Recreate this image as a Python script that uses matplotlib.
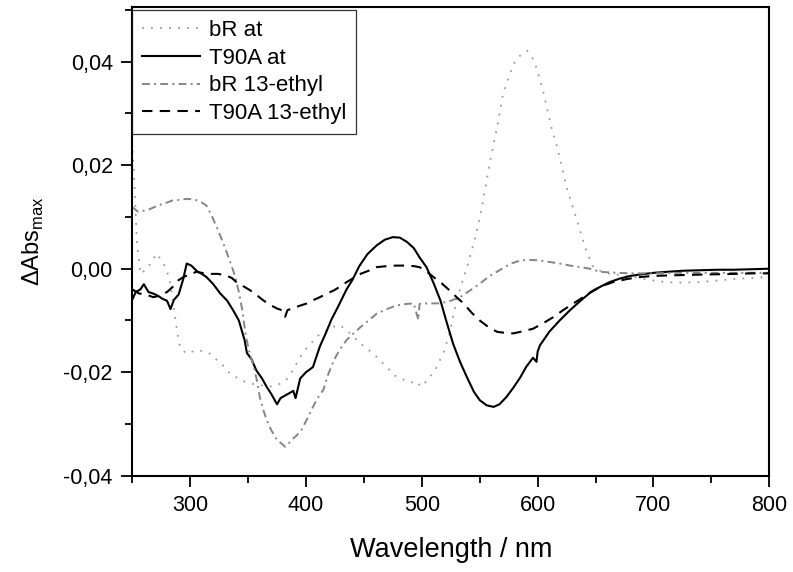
import matplotlib
matplotlib.use("Agg")
import matplotlib.pyplot as plt
from matplotlib.ticker import MultipleLocator, FixedLocator, FuncFormatter

plt.rcParams['font.family'] = ['Liberation Sans', 'DejaVu Sans']
plt.rcParams['mathtext.fontset'] = 'custom'
plt.rcParams['mathtext.rm'] = 'Liberation Sans'

# bR at (dotted)
wl_br_at = [250, 251, 252, 254, 257, 260, 263, 267, 271, 274, 277, 280, 283, 287, 290, 292,
            297, 302, 308, 312, 317, 321, 326, 330, 334, 338, 342, 347, 352, 358, 363, 368,
            373, 378, 383, 389, 395, 400, 404, 410, 418, 424, 429, 435, 441, 450, 458, 466,
            474, 478, 485, 490, 496, 499, 505, 513, 519, 524, 530, 535, 539, 543, 547, 553,
            559, 565, 570, 575, 579, 585, 591, 595, 599, 604, 608, 612, 617, 621, 625, 630,
            634, 638, 642, 648, 655, 660, 670, 683, 697, 712, 725, 740, 755, 769, 785, 800]
br_at = [0.0245, 0.0200, 0.0160, 0.0050, -0.0010, -0.0005, 0.0000, 0.0015, 0.0029, 0.0020,
         0.0010, -0.0005, -0.0030, -0.0093, -0.0140, -0.0155, -0.0164, -0.0160, -0.0157,
         -0.0162, -0.0164, -0.0172, -0.0183, -0.0190, -0.0202, -0.0208, -0.0212, -0.0218,
         -0.0222, -0.0224, -0.0226, -0.0228, -0.0226, -0.0222, -0.0215, -0.0195, -0.0170,
         -0.0155, -0.0145, -0.0130, -0.0119, -0.0112, -0.0109, -0.0118, -0.0132, -0.0150,
         -0.0164, -0.0182, -0.0200, -0.0209, -0.0215, -0.0220, -0.0218, -0.0228, -0.0215,
         -0.0190, -0.0160, -0.0125, -0.0061, -0.0025, 0.0003, 0.0035, 0.0067, 0.0132,
         0.0209, 0.0273, 0.0337, 0.0370, 0.0395, 0.0412, 0.0421, 0.0410, 0.0388, 0.0350,
         0.0311, 0.0272, 0.0234, 0.0195, 0.0157, 0.0122, 0.0093, 0.0063, 0.0035, 0.0003,
         -0.0005, -0.0009, -0.0012, -0.0016, -0.0022, -0.0026, -0.0027, -0.0026, -0.0023,
         -0.0020, -0.0018, -0.0016]

# T90A at (solid)
wl_t90a_at = [250, 253, 257, 260, 264, 268, 272, 276, 280, 283, 286, 290, 294, 297, 301, 306,
              310, 314, 320, 326, 332, 337, 342, 347, 349, 353, 357, 362, 366, 370, 375, 378,
              382, 386, 389, 391, 395, 400, 406, 409, 412, 417, 422, 428, 435, 440, 446, 453,
              461, 468, 475, 481, 487, 493, 498, 504, 510, 516, 521, 527, 533, 539, 545, 550,
              556, 562, 567, 573, 579, 585, 590, 596, 599, 600, 602, 610, 619, 628, 637, 645,
              654, 662, 671, 680, 689, 700, 712, 725, 740, 755, 769, 785, 800]
t90a_at = [-0.0060, -0.0045, -0.0040, -0.0030, -0.0045, -0.0048, -0.0052, -0.0058, -0.0062,
           -0.0078, -0.0060, -0.0050, -0.0020, 0.0010, 0.0006, -0.0005, -0.0010, -0.0016,
           -0.0030, -0.0048, -0.0062, -0.0080, -0.0100, -0.0138, -0.0163, -0.0175, -0.0196,
           -0.0212, -0.0228, -0.0242, -0.0262, -0.0250, -0.0245, -0.0240, -0.0236, -0.0250,
           -0.0212, -0.0200, -0.0190, -0.0170, -0.0150, -0.0125, -0.0098, -0.0072, -0.0040,
           -0.0022, 0.0005, 0.0028, 0.0045, 0.0056, 0.0061, 0.0060, 0.0052, 0.0040, 0.0022,
           0.0003, -0.0027, -0.0061, -0.0100, -0.0145, -0.0180, -0.0210, -0.0238, -0.0254,
           -0.0264, -0.0267, -0.0262, -0.0248, -0.0230, -0.0210, -0.0190, -0.0172, -0.0180,
           -0.0160, -0.0148, -0.0122, -0.0100, -0.0080, -0.0062, -0.0047, -0.0035, -0.0026,
           -0.0019, -0.0014, -0.0011, -0.0008, -0.0006, -0.0004, -0.0003, -0.0002, -0.0002,
           -0.0001, 0.0000]

# bR 13-ethyl (dash-dot)
wl_br_et = [250, 255, 260, 265, 272, 279, 285, 291, 297, 302, 306, 310, 314, 318, 323, 327,
            331, 335, 339, 342, 345, 348, 351, 355, 358, 360, 363, 366, 370, 375, 379, 382,
            385, 388, 392, 396, 401, 406, 410, 415, 419, 424, 429, 435, 441, 447, 454, 461,
            470, 478, 487, 493, 497, 498, 505, 516, 525, 533, 541, 550, 558, 567, 576, 585,
            593, 602, 610, 619, 628, 637, 645, 654, 668, 683, 700, 720, 740, 760, 780, 800]
br_et = [0.0119, 0.0110, 0.0112, 0.0115, 0.0122, 0.0127, 0.0132, 0.0133, 0.0135, 0.0134,
         0.0132, 0.0128, 0.0122, 0.0105, 0.0080, 0.0058, 0.0035, 0.0010, -0.0016, -0.0045,
         -0.0080, -0.0130, -0.0160, -0.0190, -0.0220, -0.0247, -0.0272, -0.0292, -0.0312,
         -0.0331, -0.0338, -0.0344, -0.0338, -0.0330, -0.0322, -0.0312, -0.0290, -0.0267,
         -0.0250, -0.0234, -0.0205, -0.0177, -0.0157, -0.0138, -0.0125, -0.0113, -0.0100,
         -0.0087, -0.0078, -0.0071, -0.0068, -0.0067, -0.0099, -0.0068, -0.0067, -0.0067,
         -0.0062, -0.0055, -0.0043, -0.0029, -0.0015, -0.0003, 0.0009, 0.0016, 0.0017,
         0.0016, 0.0013, 0.0010, 0.0006, 0.0003, 0.0000, -0.0006, -0.0008, -0.0009, -0.0009,
         -0.0008, -0.0008, -0.0008, -0.0008, -0.0008]

# T90A 13-ethyl (dashed)
wl_t90a_et = [250, 256, 262, 268, 274, 280, 285, 290, 295, 300, 305, 310, 317, 324, 331, 336,
              340, 346, 352, 358, 363, 369, 375, 379, 382, 384, 388, 394, 401, 406, 412, 418,
              424, 430, 435, 441, 447, 454, 461, 470, 478, 487, 493, 498, 504, 510, 517, 524,
              530, 536, 543, 550, 557, 565, 572, 579, 587, 596, 605, 614, 622, 631, 640, 648,
              656, 665, 677, 689, 700, 712, 730, 750, 770, 785, 800]
t90a_et = [-0.0040, -0.0048, -0.0050, -0.0055, -0.0052, -0.0045, -0.0035, -0.0022, -0.0015,
           -0.0012, -0.0006, -0.0008, -0.0010, -0.0010, -0.0013, -0.0018, -0.0026, -0.0034,
           -0.0042, -0.0052, -0.0061, -0.0070, -0.0077, -0.0080, -0.0093, -0.0080, -0.0077,
           -0.0072, -0.0067, -0.0061, -0.0055, -0.0048, -0.0042, -0.0034, -0.0026, -0.0018,
           -0.0010, -0.0004, 0.0003, 0.0005, 0.0006, 0.0006, 0.0005, 0.0003, -0.0005, -0.0016,
           -0.0028, -0.0042, -0.0055, -0.0067, -0.0085, -0.0100, -0.0112, -0.0122, -0.0124,
           -0.0125, -0.0121, -0.0116, -0.0105, -0.0093, -0.0080, -0.0067, -0.0054, -0.0042,
           -0.0033, -0.0026, -0.0020, -0.0016, -0.0014, -0.0013, -0.0012, -0.0011, -0.0010,
           -0.0009, -0.0009]

x_ticks = [300, 400, 500, 600, 700, 800]
y_ticks = [-0.04, -0.02, 0.00, 0.02, 0.04]

fig = plt.figure(figsize=(7.93, 5.72), dpi=100)
ax = fig.add_axes([0.1668, 0.1683, 0.8033, 0.8189])

ax.plot(wl_br_at, br_at, color='#9a9a9a', lw=1.3, ls=(0, (1, 4)), label='bR at')
ax.plot(wl_t90a_at, t90a_at, color='black', lw=1.5, ls='-', label='T90A at')
ax.plot(wl_br_et, br_et, color='#858585', lw=1.4, ls=(0, (4, 2.2, 1, 2.2)), label='bR 13-ethyl')
ax.plot(wl_t90a_et, t90a_et, color='black', lw=1.5, ls=(0, (5, 3.5)), label='T90A 13-ethyl')

ax.set_xlim(250, 800)
ax.set_ylim(-0.04, 0.0505)

ax.xaxis.set_major_locator(FixedLocator(x_ticks))
ax.xaxis.set_minor_locator(MultipleLocator(50))
ax.yaxis.set_major_locator(FixedLocator(y_ticks))
ax.yaxis.set_minor_locator(MultipleLocator(0.01))
ax.yaxis.set_major_formatter(FuncFormatter(lambda v, p: ('%.2f' % v).replace('.', ',').replace('-0,00', '0,00')))

ax.tick_params(which='major', direction='out', length=8, width=1.3, labelsize=15.5, pad=6)
ax.tick_params(which='minor', direction='out', length=5, width=1.3)
ax.tick_params(top=False, right=False, which='both')
for s in ax.spines.values():
    s.set_linewidth(1.5)

ax.set_xlabel('Wavelength / nm', fontsize=19.5, labelpad=15)
ax.set_ylabel(r'ΔAbs$_{\rm max}$', fontsize=17)
ax.yaxis.set_label_coords(-0.135, 0.5)

leg = ax.legend(loc='upper left', bbox_to_anchor=(0, 0.994), borderaxespad=0,
                fontsize=16, frameon=True, fancybox=False, edgecolor='black',
                handlelength=2.6, handletextpad=0.4, labelspacing=0.3, borderpad=0.45)
leg.get_frame().set_linewidth(0.9)

fig.savefig('out.png', dpi=100)
